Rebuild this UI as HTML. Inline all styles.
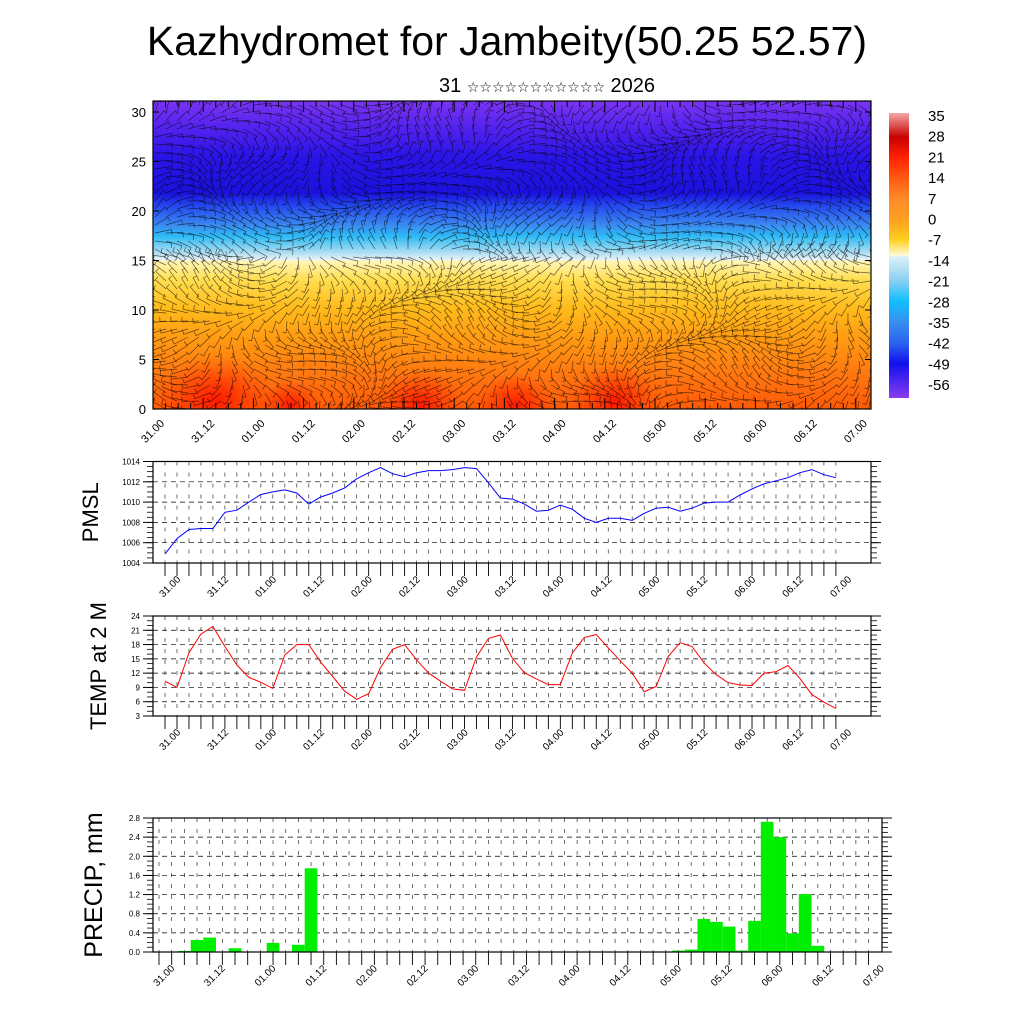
<!DOCTYPE html>
<html><head><meta charset="utf-8">
<style>
html,body{margin:0;padding:0;background:#fff;}
svg{display:block;font-family:"Liberation Sans",Arial,sans-serif;}
</style></head>
<body>
<svg id="root" width="1024" height="1024" viewBox="0 0 1024 1024">
<defs>
<linearGradient id="tgrad" x1="0" y1="101" x2="0" y2="409" gradientUnits="userSpaceOnUse">
<stop offset="0" stop-color="#7a34f2"/>
<stop offset="0.09" stop-color="#5222ee"/>
<stop offset="0.18" stop-color="#2a14e6"/>
<stop offset="0.30" stop-color="#1a12dc"/>
<stop offset="0.34" stop-color="#2448ee"/>
<stop offset="0.40" stop-color="#3a86f0"/>
<stop offset="0.44" stop-color="#2ebcf6"/>
<stop offset="0.49" stop-color="#a8dcf2"/>
<stop offset="0.515" stop-color="#e6f2f6"/>
<stop offset="0.52" stop-color="#fff6b8"/>
<stop offset="0.58" stop-color="#ffde50"/>
<stop offset="0.67" stop-color="#ffbc1c"/>
<stop offset="0.78" stop-color="#ff9812"/>
<stop offset="0.90" stop-color="#ff7410"/>
<stop offset="1" stop-color="#ff5a06"/>
</linearGradient>
<radialGradient id="hot"><stop offset="0" stop-color="#ff1400" stop-opacity="0.95"/><stop offset="1" stop-color="#ff3000" stop-opacity="0"/></radialGradient>
<linearGradient id="cbar" x1="0" y1="113" x2="0" y2="398" gradientUnits="userSpaceOnUse">
<stop offset="0" stop-color="#f4a8a8"/>
<stop offset="0.084" stop-color="#c80000"/>
<stop offset="0.155" stop-color="#ff2000"/>
<stop offset="0.23" stop-color="#ff5a10"/>
<stop offset="0.30" stop-color="#ff8a28"/>
<stop offset="0.375" stop-color="#ffa020"/>
<stop offset="0.445" stop-color="#ffd020"/>
<stop offset="0.50" stop-color="#fffad8"/>
<stop offset="0.505" stop-color="#dcf0f8"/>
<stop offset="0.59" stop-color="#88cef0"/>
<stop offset="0.66" stop-color="#10c0ff"/>
<stop offset="0.737" stop-color="#3a8cf0"/>
<stop offset="0.81" stop-color="#2a60f0"/>
<stop offset="0.88" stop-color="#1010ee"/>
<stop offset="1" stop-color="#8a3cf0"/>
</linearGradient>
<clipPath id="mclip"><rect x="153" y="101" width="718" height="308"/></clipPath>
</defs>

<text x="507" y="55" font-size="41" text-anchor="middle">Kazhydromet for Jambeity(50.25 52.57)</text>
<text x="547" y="92" font-size="20" text-anchor="middle" font-family="Liberation Sans, DejaVu Sans, sans-serif">31 <tspan font-size="14">☆☆☆☆☆☆☆☆☆☆☆</tspan> 2026</text>

<g id="main">
<g clip-path="url(#mclip)">
<rect x="153" y="101" width="718" height="308" fill="url(#tgrad)"/>
<ellipse cx="215" cy="400" rx="60" ry="45" fill="url(#hot)"/>
<ellipse cx="420" cy="405" rx="45" ry="35" fill="url(#hot)"/>
<ellipse cx="515" cy="405" rx="40" ry="32" fill="url(#hot)"/>
<ellipse cx="615" cy="402" rx="45" ry="38" fill="url(#hot)"/>
<ellipse cx="290" cy="405" rx="30" ry="25" fill="url(#hot)"/>
<g id="barbs" stroke="#000" stroke-opacity="0.6" stroke-width="0.7" fill="none"></g>
</g>
<rect x="153" y="101" width="718" height="308" fill="none" stroke="#000" stroke-width="1.2"/>
<g id="mainAxes"></g>
</g>

<g>
<rect x="889" y="113" width="20" height="285" fill="url(#cbar)"/>
<g id="cbLabels" font-size="15"></g>
</g>

<g id="pmsl"></g>
<g id="temp"></g>
<g id="precip"></g>
</svg>
<script>
const timeLabels = ["31.00","31.12","01.00","01.12","02.00","02.12","03.00","03.12","04.00","04.12","05.00","05.12","06.00","06.12","07.00"];
const pmslValues = [1004.9,1006.4,1007.3,1007.4,1007.4,1009.0,1009.2,1010.0,1010.75,1011.0,1011.2,1010.9,1009.8,1010.5,1010.9,1011.4,1012.3,1012.9,1013.4,1012.8,1012.5,1012.9,1013.1,1013.1,1013.2,1013.4,1013.3,1011.9,1010.4,1010.3,1009.8,1009.1,1009.2,1009.7,1009.3,1008.4,1008.0,1008.4,1008.4,1008.2,1008.9,1009.4,1009.5,1009.1,1009.4,1009.9,1010.0,1010.0,1010.7,1011.3,1011.8,1012.1,1012.4,1012.9,1013.2,1012.7,1012.4];
const tempValues = [10.3,9.0,16.3,20.2,21.8,17.6,13.7,11.1,10.1,8.8,15.8,18.0,18.0,14.3,11.3,8.2,6.5,7.7,13.2,17.0,18.0,14.8,12.0,10.3,8.7,8.4,15.4,19.3,20.0,15.1,12.1,10.8,9.6,9.6,16.2,19.5,20.1,17.3,14.6,12.0,8.1,9.2,15.5,18.4,17.6,14.1,11.7,10.0,9.5,9.4,12.0,12.3,13.6,10.9,7.5,5.9,4.6];
const precipValues = [0,0,0.02,0.25,0.30,0,0.08,0,0,0.19,0,0.15,1.75,0,0,0,0,0,0,0,0,0,0,0,0,0,0,0,0,0,0,0,0,0,0,0,0.01,0,0,0,0,0.03,0.05,0.69,0.63,0.53,0.03,0.65,2.72,2.40,0.39,1.21,0.13,0,0,0,0];
const pmslTicks = [1004,1006,1008,1010,1012,1014];
const tempTicks = [3,6,9,12,15,18,21,24];
const precipTicks = [0,0.4,0.8,1.2,1.6,2.0,2.4,2.8];
const heightTicks = [0,5,10,15,20,25,30];
const cbTicks = ["35","28","21","14","7","0","-7","-14","-21","-28","-35","-42","-49","-56"];

const NS="http://www.w3.org/2000/svg";
function mk(tag, attrs, parent){const e=document.createElementNS(NS,tag);for(const k in attrs)e.setAttribute(k,attrs[k]);parent.appendChild(e);return e;}

const mainAxes=document.getElementById('mainAxes');
const mainY=v=>409-v*9.9;
const mainX=i=>153+i*50.2;
heightTicks.forEach(v=>{
  const y=mainY(v);
  const t=mk('text',{x:146,y:y+5,'font-size':13,'text-anchor':'end'},mainAxes);
  t.textContent=v;
  
  
  mk('line',{x1:153,y1:y,x2:159,y2:y,stroke:'#000'},mainAxes);
  mk('line',{x1:865,y1:y,x2:871,y2:y,stroke:'#000'},mainAxes);
});
for(let i=0;i<=56;i++){const x=153+i*12.55;mk('line',{x1:x,y1:409,x2:x,y2:i%4==0?398:403,stroke:'#000'},mainAxes);mk('line',{x1:x,y1:101,x2:x,y2:i%4==0?112:107,stroke:'#000'},mainAxes);}
timeLabels.forEach((s,i)=>{
  const x=mainX(i)+12,y=424;
  const t=mk('text',{x:x,y:y,'font-size':11,'text-anchor':'end',transform:`rotate(-45 ${x} ${y})`},mainAxes);
  t.textContent=s;
  
  
});

const barbs=document.getElementById('barbs');
for(let gy=105;gy<410;gy+=8){
  for(let gx=155;gx<872;gx+=11){
    const a=Math.sin(gx*0.021+gy*0.013)*1.3+Math.cos(gy*0.05-gx*0.008)*0.9+(gy>250?2.2:0.2);
    const L=17,dx=Math.cos(a)*L,dy=Math.sin(a)*L*0.7;
    const x2=gx+dx,y2=gy+dy;
    mk('path',{d:`M${gx},${gy}L${x2.toFixed(1)},${y2.toFixed(1)}l${(-dy*0.3).toFixed(1)},${(dx*0.3).toFixed(1)}`},barbs);
  }
}

const cbL=document.getElementById('cbLabels');
cbTicks.forEach((s,i)=>{
  const t=mk('text',{x:928,y:121+i*20.7},cbL);
  t.textContent=s;
  
  
});

function panel(gid, cfg){
  const g=document.getElementById(gid);
  const {left,right,top,bottom,vmin,vmax,ticks,minor,fmt,x0,dx,title,titleX,titleSize}=cfg;
  const Y=v=>bottom-(v-vmin)/(vmax-vmin)*(bottom-top);
  const X=i=>x0+i*dx;
  for(let i=0;i<=56;i++){const x=X(i);if(x>left&&x<right)mk('line',{x1:x,y1:top,x2:x,y2:bottom,stroke:'#000','stroke-width':0.7,'stroke-dasharray':'4,7','stroke-opacity':0.8},g);}
  ticks.forEach(v=>{
    const y=Y(v);
    if(v>vmin&&v<vmax)mk('line',{x1:left,y1:y,x2:right,y2:y,stroke:'#000','stroke-width':0.7,'stroke-dasharray':'5,4'},g);
    mk('line',{x1:left-10,y1:y,x2:left,y2:y,stroke:'#000'},g);
    mk('line',{x1:right,y1:y,x2:right+10,y2:y,stroke:'#000'},g);
    const t=mk('text',{x:left-13,y:y+3,'font-size':8,'text-anchor':'end'},g);
    t.textContent=fmt(v);
    
    
  });
  for(let v=vmin;v<=vmax+1e-6;v+=minor){const y=Y(v);mk('line',{x1:left-6,y1:y,x2:left,y2:y,stroke:'#000','stroke-width':0.8},g);mk('line',{x1:right,y1:y,x2:right+6,y2:y,stroke:'#000','stroke-width':0.8},g);}
  for(let i=0;i<=56;i++){const x=X(i);mk('line',{x1:x,y1:bottom,x2:x,y2:bottom+13,stroke:'#000','stroke-width':0.9},g);}
  timeLabels.forEach((s,i)=>{
    const x=X(i*4)+16,y=bottom+17;
    const t=mk('text',{x:x,y:y,'font-size':10,'text-anchor':'end',transform:`rotate(-45 ${x} ${y})`},g);
    t.textContent=s;
    
    
  });
  const tt=mk('text',{x:titleX,y:(top+bottom)/2,'font-size':titleSize,'text-anchor':'middle',transform:`rotate(-90 ${titleX} ${(top+bottom)/2})`},g);
  tt.textContent=title;
  
  
  return {g,X,Y,frame:()=>mk('rect',{x:left,y:top,width:right-left,height:bottom-top,fill:'none',stroke:'#000','stroke-width':1.2},g)};
}

const p1=panel('pmsl',{left:153,right:871,top:461.5,bottom:563,vmin:1004,vmax:1014,ticks:pmslTicks,minor:0.5,fmt:v=>v,x0:165,dx:11.98,title:'PMSL',titleX:98,titleSize:22});
const pl=mk('polyline',{points:pmslValues.map((v,i)=>p1.X(i).toFixed(1)+','+p1.Y(v).toFixed(1)).join(' '),fill:'none',stroke:'#0000ff','stroke-width':1},p1.g);


p1.frame();

const p2=panel('temp',{left:153,right:871,top:616,bottom:716,vmin:3,vmax:24,ticks:tempTicks,minor:1,fmt:v=>v,x0:165,dx:11.98,title:'TEMP at 2 M',titleX:106,titleSize:22});
const tl=mk('polyline',{points:tempValues.map((v,i)=>p2.X(i).toFixed(1)+','+p2.Y(v).toFixed(1)).join(' '),fill:'none',stroke:'#ff0000','stroke-width':1},p2.g);


p2.frame();

const p3=panel('precip',{left:153,right:882,top:818,bottom:952,vmin:0,vmax:2.8,ticks:precipTicks,minor:0.1,fmt:v=>v.toFixed(1),x0:159,dx:12.67,title:'PRECIP, mm',titleX:102,titleSize:25});
precipValues.forEach((v,i)=>{
  if(v<=0)return;
  const y=p3.Y(v);
  const r=mk('rect',{x:(p3.X(i)-6.33).toFixed(1),y:y.toFixed(1),width:12.67,height:(952-y).toFixed(1),fill:'#00ee00'},p3.g);
  
  
});
p3.frame();
</script>
</body></html>
